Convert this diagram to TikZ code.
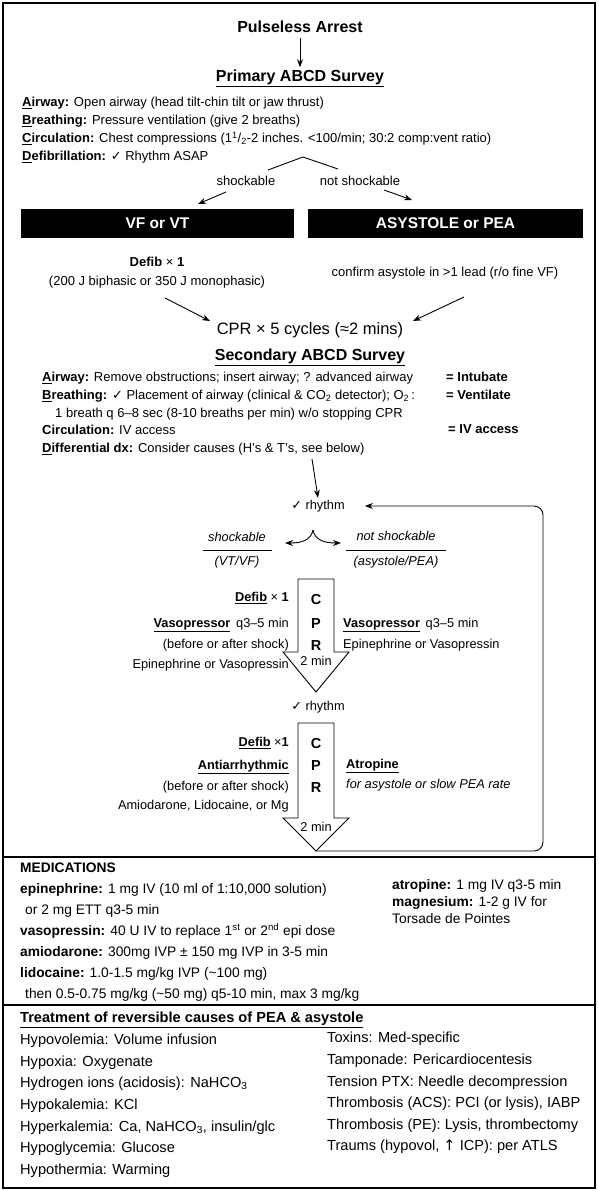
\documentclass[tikz,border=0pt]{standalone}
\usepackage{fontspec}
\setmainfont{Liberation Sans}
\newfontfamily\dvs{DejaVu Sans}
\usetikzlibrary{arrows.meta}
\newcommand\fsz[1]{\fontsize{#1}{#1}\selectfont}
\newcommand\bu[1]{\textbf{\underline{#1}}}
\newcommand\ck{{\dvs ✓}}
\tikzset{
  t/.style={inner sep=0pt, font=\fsz{13}, text height=9.5pt, text depth=2.5pt},
  tl/.style={t, anchor=west},
  tr/.style={t, anchor=east},
  fl/.style={inner sep=0pt, font=\fsz{12.8}, text height=9.5pt, text depth=2.5pt},
  fll/.style={fl, anchor=west},
  flr/.style={fl, anchor=east},
  md/.style={inner sep=0pt, anchor=west, font=\fsz{13.8}, text height=10pt, text depth=3pt},
  bt/.style={inner sep=0pt, anchor=west, font=\fsz{14.6}, text height=10.5pt, text depth=3pt},
  hd/.style={inner sep=0pt, font=\bfseries\fsz{16}, text height=11.5pt, text depth=3.5pt},
  blk/.style={fill=black, text=white, font=\bfseries\fsz{15.5}, minimum height=29pt, inner sep=0pt},
  arr/.style={-{Stealth[length=8pt,width=6pt]}, line width=0.9pt},
  cprbox/.style={draw, line width=0.9pt, fill=white},
  cprl/.style={inner sep=0pt, font=\bfseries\fsz{14.5}},
  rule/.style={line width=1.1pt},
}
\begin{document}
\begin{tikzpicture}[x=1pt,y=-1pt]
\useasboundingbox (0,0) rectangle (598,1191);
% frame and separators
\draw[rule] (3,3) rectangle (595,1188);
\draw[rule] (3,857) -- (595,857);
\draw[rule] (3,1005) -- (595,1005);

% ---------- primary survey
\node[hd] (pa) at (300,28) {Pulseless Arrest};
\node[hd] (prim) at (300,77) {\underline{Primary ABCD Survey}};
\draw[arr] ([yshift=-2pt]pa.south) -- ([yshift=2pt]prim.north);
\node[tl] (pA) at (22,103) {\bu{A}\textbf{irway:} Open airway (head tilt-chin tilt or jaw thrust)};
\node[tl] (pB) at (22,121) {\bu{B}\textbf{reathing:} Pressure ventilation (give 2 breaths)};
\node[tl] (pC) at (22,139) {\bu{C}\textbf{irculation:} Chest compressions (1\textsuperscript{1}/\textsubscript{2}-2 inches. <100/min; 30:2 comp:vent ratio)};
\node[tl] (pD) at (22,157) {\bu{D}\textbf{efibrillation:} \ck\ Rhythm ASAP};

% ---------- split
\coordinate (cl) at (268,170);
\coordinate (ca) at (303,157);
\coordinate (cr) at (338,169);
\draw[line width=0.9pt] (cl) -- (ca) -- (cr);
\node[t] (shk) at (246,182) {shockable};
\node[t] (nshk) at (360,182) {not shockable};
\coordinate (a1s) at (226,192); \coordinate (a1e) at (198,204);
\coordinate (a2s) at (384,190); \coordinate (a2e) at (412,200);
\draw[arr] (a1s) -- (a1e);
\draw[arr] (a2s) -- (a2e);
\node[blk, minimum width=273pt] (vf) at (157.5,223.5) {VF or VT};
\node[blk, minimum width=275pt] (asy) at (445.5,223.5) {ASYSTOLE or PEA};
\node[t] (defib0) at (157,263) {\textbf{Defib} × \textbf{1}};
\node[t] (joule) at (157,282) {(200 J biphasic or 350 J monophasic)};
\node[t] (conf) at (445,273) {confirm asystole in >1 lead (r/o fine VF)};

% ---------- CPR
\node[inner sep=0pt, font=\fsz{16.5}, text height=12pt, text depth=3.5pt] (cpr) at (310,330) {CPR × 5 cycles (≈2 mins)};
\coordinate (l1s) at (165,298); \coordinate (l1e) at (210,321);
\coordinate (r1s) at (464,297); \coordinate (r1e) at (413,321);
\draw[arr] (l1s) -- (l1e);
\draw[arr] (r1s) -- (r1e);
\node[hd] (sec) at (310,356) {\underline{Secondary ABCD Survey}};
\node[tl] (sA) at (42,378) {\bu{A}\textbf{irway:} Remove obstructions; insert airway; ? advanced airway};
\node[tl] (sB) at (42,396) {\bu{B}\textbf{reathing:} \ck\ Placement of airway (clinical \& CO\textsubscript{2} detector); O\textsubscript{2}\,:};
\node[tl] (sB2) at (55,414) {1 breath q 6–8 sec (8-10 breaths per min) w/o stopping CPR};
\node[tl] (sC) at (42,431) {\textbf{Circulation:} IV access};
\node[tl] (sD) at (42,449) {\bu{D}\textbf{ifferential dx:} Consider causes (H's \& T's, see below)};
\node[tl] (intu) at (446,378) {\textbf{= Intubate}};
\node[tl] (vent) at (446,396) {\textbf{= Ventilate}};
\node[tl] (ivac) at (448,430) {\textbf{= IV access}};

% ---------- rhythm loop
\coordinate (dn) at (312,459);
\node[fl] (rh1) at (318,506) {\ck\ rhythm};
\draw[arr] (dn) -- ([yshift=2pt]rh1.north);
\node[fl, font=\itshape\fsz{12.8}] (sh2) at (237,538) {shockable};
\node[fl, font=\itshape\fsz{12.8}] (vtvf) at (237,562) {(VT/VF)};
\draw[line width=0.8pt] (203,550) -- (272,550);
\node[fl, font=\itshape\fsz{12.8}] (nsh2) at (396,537) {not shockable};
\node[fl, font=\itshape\fsz{12.8}] (apea) at (396,562) {(asystole/PEA)};
\draw[line width=0.8pt] (346,550) -- (446,550);
\coordinate (apx) at (313,530);
\coordinate (apl) at (285,543);
\coordinate (apr) at (341,543);
\draw[arr] (apx) .. controls (311,540) and (302,543) .. (apl);
\draw[arr] (apx) .. controls (315,540) and (324,543) .. (apr);

% CPR arrow 1
\draw[cprbox] (298,579) -- (334,579) -- (334,652) -- (349,652) -- (316,692) coordinate (tip1) -- (283,652) -- (298,652) -- cycle;
\node[cprl] (c1) at (316,600) {C};
\node[cprl] (p1) at (316,624) {P};
\node[cprl] (r1) at (316,646) {R};
\node[fl] (m1) at (316,662) {2 min};
\node[flr] (L1a) at (289,598) {\bu{Defib} × \textbf{1}};
\node[flr] (L1b) at (289,624) {\bu{Vasopressor}\, q3–5 min};
\node[flr] (L1c) at (289,645) {(before or after shock)};
\node[flr] (L1d) at (289,665) {Epinephrine or Vasopressin};
\node[fll] (R1a) at (343,624) {\bu{Vasopressor}\, q3–5 min};
\node[fll] (R1b) at (343,645) {Epinephrine or Vasopressin};

\node[fl] (rh2) at (318,707) {\ck\ rhythm};

% CPR arrow 2
\draw[cprbox] (298,723) -- (334,723) -- (334,818) -- (349,818) -- (316,851) coordinate (tip2) -- (283,818) -- (298,818) -- cycle;
\node[cprl] (c2) at (316,743) {C};
\node[cprl] (p2) at (316,766) {P};
\node[cprl] (r2) at (316,788) {R};
\node[fl] (m2) at (316,828) {2 min};
\node[flr] (L2a) at (289,743) {\bu{Defib} ×\textbf{1}};
\node[flr] (L2b) at (289,766) {\bu{Antiarrhythmic}};
\node[flr] (L2c) at (289,787) {(before or after shock)};
\node[flr] (L2d) at (289,806) {Amiodarone, Lidocaine, or Mg};
\node[fll] (R2a) at (346,765) {\bu{Atropine}};
\node[fll] (R2b) at (346,785) {\textit{for asystole or slow PEA rate}};

\draw[arr, rounded corners=9pt, shorten >=20pt] (tip2) -- (543,851) -- (543,506) -- (rh1.east);

% ---------- medications
\node[md] (med) at (20,869) {\textbf{MEDICATIONS}};
\node[md] (m1a) at (20,890) {\textbf{epinephrine:} 1 mg IV (10 ml of 1:10,000 solution)};
\node[md] (m1b) at (25,911) {or 2 mg ETT q3-5 min};
\node[md] (m2a) at (20,932) {\textbf{vasopressin:} 40 U IV to replace 1\textsuperscript{st} or 2\textsuperscript{nd} epi dose};
\node[md] (m3a) at (20,953) {\textbf{amiodarone:} 300mg IVP ± 150 mg IVP in 3-5 min};
\node[md] (m4a) at (20,974) {\textbf{lidocaine:} 1.0-1.5 mg/kg IVP (\textasciitilde100 mg)};
\node[md] (m4b) at (25,995) {then 0.5-0.75 mg/kg (\textasciitilde50 mg) q5-10 min, max 3 mg/kg};
\node[md] (m5a) at (392,886) {\textbf{atropine:} 1 mg IV q3-5 min};
\node[md] (m5b) at (392,903) {\textbf{magnesium:} 1-2 g IV for};
\node[md] (m5c) at (392,920) {Torsade de Pointes};

% ---------- reversible causes
\node[bt, font=\bfseries\fsz{14.6}] (trt) at (20,1019) {\underline{Treatment of reversible causes of PEA \& asystole}};
\node[bt] (h1) at (20,1041) {Hypovolemia: Volume infusion};
\node[bt] (h2) at (20,1063) {Hypoxia: Oxygenate};
\node[bt] (h3) at (20,1084) {Hydrogen ions (acidosis): NaHCO\textsubscript{3}};
\node[bt] (h4) at (20,1106) {Hypokalemia: KCl};
\node[bt] (h5) at (20,1128) {Hyperkalemia: Ca, NaHCO\textsubscript{3}, insulin/glc};
\node[bt] (h6) at (20,1149) {Hypoglycemia: Glucose};
\node[bt] (h7) at (20,1171) {Hypothermia: Warming};
\node[bt] (t1) at (327,1039) {Toxins: Med-specific};
\node[bt] (t2) at (327,1061) {Tamponade: Pericardiocentesis};
\node[bt] (t3) at (327,1083) {Tension PTX: Needle decompression};
\node[bt] (t4) at (327,1104) {Thrombosis (ACS): PCI (or lysis), IABP};
\node[bt] (t5) at (327,1126) {Thrombosis (PE): Lysis, thrombectomy};
\node[bt] (t6) at (327,1147) {Traums (hypovol, {\dvs ↑} ICP): per ATLS};
\end{tikzpicture}
\end{document}
